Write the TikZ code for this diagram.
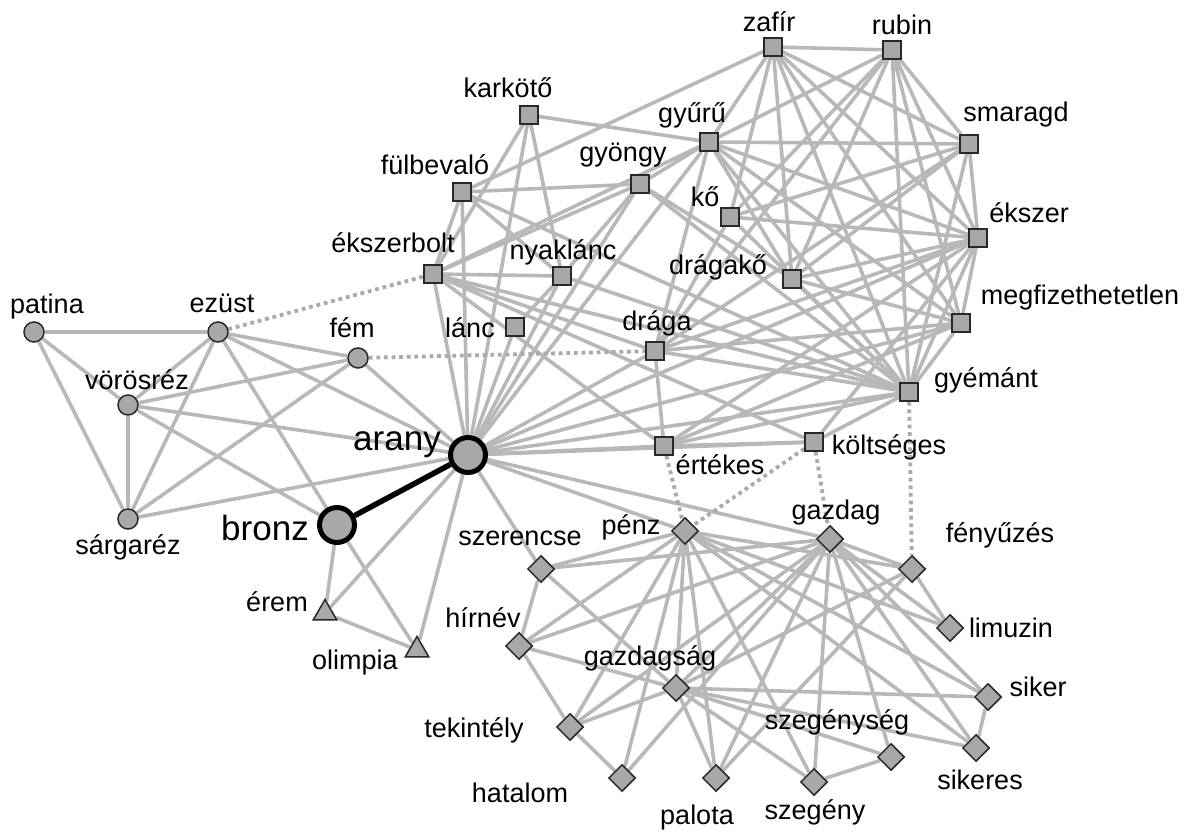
\documentclass[tikz,border=0pt]{standalone}
\usepackage{fontspec}
\setmainfont{Liberation Sans}
\usetikzlibrary{shapes.geometric,backgrounds}
\definecolor{edgegray}{RGB}{184,184,184}
\definecolor{dotgray}{RGB}{170,170,170}
\definecolor{nodefill}{RGB}{168,168,168}
\definecolor{nodeborder}{RGB}{40,40,40}
\begin{document}
\begin{tikzpicture}[x=1pt,y=-1pt,
  circ/.style={circle,draw=nodeborder,fill=nodefill,line width=1.5pt,minimum size=20pt,inner sep=0pt},
  bigc/.style={circle,draw=black,fill=nodefill,line width=5pt,minimum size=35pt,inner sep=0pt},
  sqr/.style={rectangle,draw=nodeborder,fill=nodefill,line width=1.5pt,minimum size=18pt,inner sep=0pt},
  dia/.style={diamond,draw=nodeborder,fill=nodefill,line width=1.5pt,minimum size=27pt,inner sep=0pt},
  tri/.style={regular polygon,regular polygon sides=3,draw=nodeborder,fill=nodefill,line width=1.5pt,minimum size=27pt,inner sep=0pt},
  lbl/.style={font=\fontsize{27}{29}\selectfont,inner sep=0pt},
  biglbl/.style={font=\fontsize{35}{38}\selectfont,inner sep=0pt},
  edge/.style={draw=edgegray,line width=3.6pt},
  dots/.style={draw=dotgray,line width=3.8pt,dash pattern=on 3.8pt off 3.8pt},
  heavy/.style={draw=black,line width=5.5pt}]
\useasboundingbox (0,0) rectangle (1188,834);

% circles
\node[circ] (patina) at (34,332) {};
\node[circ] (ezust) at (218,332) {};
\node[circ] (fem) at (358,358) {};
\node[circ] (voros) at (128,405) {};
\node[circ] (sarga) at (128,519) {};
\node[bigc] (arany) at (468,455) {};
\node[bigc] (bronz) at (337,525) {};
% triangles
\node[tri] (erem) at (325,613) {};
\node[tri] (olimpia) at (417,650) {};
% squares
\node[sqr] (karkoto) at (529,115) {};
\node[sqr] (fulbe) at (462,192) {};
\node[sqr] (gyongy) at (640,184) {};
\node[sqr] (gyuru) at (709,142) {};
\node[sqr] (zafir) at (773,47) {};
\node[sqr] (rubin) at (892,50) {};
\node[sqr] (smaragd) at (969,144) {};
\node[sqr] (ko) at (730,217) {};
\node[sqr] (ekszer) at (978,238) {};
\node[sqr] (eksbolt) at (433,274) {};
\node[sqr] (nyaklanc) at (562,276) {};
\node[sqr] (dragako) at (792,279) {};
\node[sqr] (megfiz) at (961,323) {};
\node[sqr] (lanc) at (515,327) {};
\node[sqr] (draga) at (655,351) {};
\node[sqr] (gyemant) at (909,392) {};
\node[sqr] (ertekes) at (664,446) {};
\node[sqr] (koltseges) at (814,442) {};
% diamonds
\node[dia] (penz) at (685,531) {};
\node[dia] (gazdag) at (830,539) {};
\node[dia] (szerencse) at (541,569) {};
\node[dia] (fenyuzes) at (912,569) {};
\node[dia] (limuzin) at (950,628) {};
\node[dia] (hirnev) at (519,646) {};
\node[dia] (gazdagsag) at (676,688) {};
\node[dia] (siker) at (988,697) {};
\node[dia] (tekintely) at (570,727) {};
\node[dia] (szegenyseg) at (891,757) {};
\node[dia] (sikeres) at (976,748) {};
\node[dia] (hatalom) at (622,778) {};
\node[dia] (palota) at (716,778) {};
\node[dia] (szegeny) at (814,782) {};

% labels
\node[lbl] (l-patina) at (47,307) {patina};
\node[lbl] (l-ezust) at (222,303) {ezüst};
\node[lbl] (l-fem) at (352,328) {fém};
\node[lbl] (l-voros) at (137,380) {vörösréz};
\node[lbl] (l-sarga) at (128,547) {sárgaréz};
\node[biglbl] (l-arany) at (397,445) {arany};
\node[biglbl] (l-bronz) at (265,528) {bronz};
\node[lbl] (l-erem) at (277,602) {érem};
\node[lbl] (l-olimpia) at (355,663) {olimpia};
\node[lbl] (l-karkoto) at (508,88) {karkötő};
\node[lbl] (l-gyuru) at (692,115) {gyűrű};
\node[lbl] (l-fulbe) at (435,165) {fülbevaló};
\node[lbl] (l-gyongy) at (623,155) {gyöngy};
\node[lbl] (l-ko) at (705,197) {kő};
\node[lbl] (l-eksbolt) at (393,243) {ékszerbolt};
\node[lbl] (l-nyaklanc) at (563,252) {nyaklánc};
\node[lbl] (l-dragako) at (718,267) {drágakő};
\node[lbl] (l-lanc) at (470,328) {lánc};
\node[lbl] (l-draga) at (657,323) {drága};
\node[lbl] (l-ertekes) at (720,465) {értékes};
\node[lbl] (l-zafir) at (769,22) {zafír};
\node[lbl] (l-rubin) at (902,25) {rubin};
\node[lbl] (l-smaragd) at (1016,115) {smaragd};
\node[lbl] (l-ekszer) at (1029,213) {ékszer};
\node[lbl] (l-megfiz) at (1080,298) {megfizethetetlen};
\node[lbl] (l-gyemant) at (986,380) {gyémánt};
\node[lbl] (l-koltseges) at (889,447) {költséges};
\node[lbl] (l-penz) at (631,527) {pénz};
\node[lbl] (l-gazdag) at (836,513) {gazdag};
\node[lbl] (l-szerencse) at (520,538) {szerencse};
\node[lbl] (l-fenyuzes) at (1000,535) {fényűzés};
\node[lbl] (l-limuzin) at (1011,628) {limuzin};
\node[lbl] (l-hirnev) at (483,618) {hírnév};
\node[lbl] (l-gazdagsag) at (650,658) {gazdagság};
\node[lbl] (l-siker) at (1038,687) {siker};
\node[lbl] (l-tekintely) at (474,730) {tekintély};
\node[lbl] (l-szegenyseg) at (837,722) {szegénység};
\node[lbl] (l-sikeres) at (980,780) {sikeres};
\node[lbl] (l-hatalom) at (520,793) {hatalom};
\node[lbl] (l-palota) at (697,818) {palota};
\node[lbl] (l-szegeny) at (815,812) {szegény};

\begin{scope}[on background layer]
\foreach \a/\b in {
  patina/ezust, patina/voros, patina/sarga, ezust/voros, ezust/sarga, ezust/fem,
  ezust/arany, ezust/bronz, fem/voros, fem/sarga, fem/arany, voros/sarga,
  voros/arany, voros/bronz, sarga/arany, bronz/erem, bronz/olimpia,
  arany/erem, arany/olimpia, erem/olimpia,
  arany/eksbolt, arany/fulbe, arany/karkoto, arany/lanc, arany/nyaklanc,
  arany/gyongy, arany/gyuru, arany/draga, arany/ekszer, arany/megfiz,
  arany/gyemant, arany/koltseges, arany/ertekes, arany/gazdag, arany/penz,
  arany/szerencse,
  karkoto/gyuru, karkoto/eksbolt, karkoto/nyaklanc,
  fulbe/eksbolt, fulbe/gyongy, fulbe/nyaklanc, fulbe/gyemant, fulbe/zafir,
  gyongy/eksbolt, gyongy/gyuru, gyongy/nyaklanc, gyongy/gyemant, gyongy/dragako,
  gyuru/eksbolt, gyuru/zafir, gyuru/rubin, gyuru/smaragd, gyuru/ekszer,
  gyuru/gyemant, gyuru/dragako, gyuru/draga, gyuru/megfiz,
  zafir/rubin, zafir/smaragd, zafir/ekszer, zafir/ko, zafir/dragako,
  zafir/gyemant, zafir/megfiz,
  rubin/ko, rubin/smaragd, rubin/ekszer, rubin/dragako, rubin/gyemant,
  rubin/megfiz, rubin/draga,
  smaragd/ekszer, smaragd/gyemant, smaragd/ko, smaragd/dragako, smaragd/draga,
  ko/ekszer, ko/gyemant, ko/draga,
  dragako/ekszer, dragako/gyemant, dragako/megfiz,
  ekszer/megfiz, ekszer/gyemant, ekszer/draga, ekszer/ertekes, ekszer/koltseges,
  megfiz/gyemant, megfiz/draga, megfiz/ertekes,
  gyemant/draga, gyemant/ertekes, gyemant/koltseges, gyemant/eksbolt,
  gyemant/nyaklanc,
  draga/ertekes, draga/eksbolt, ertekes/koltseges, ertekes/eksbolt,
  koltseges/eksbolt, lanc/nyaklanc, nyaklanc/eksbolt,
  penz/szerencse, penz/hirnev, penz/tekintely, penz/hatalom, penz/palota,
  penz/gazdagsag, penz/szegeny, penz/fenyuzes, penz/limuzin, penz/siker,
  penz/sikeres,
  gazdag/szerencse, gazdag/hirnev, gazdag/tekintely, gazdag/hatalom,
  gazdag/gazdagsag, gazdag/palota, gazdag/szegeny, gazdag/szegenyseg,
  gazdag/sikeres, gazdag/siker, gazdag/limuzin, gazdag/fenyuzes,
  fenyuzes/limuzin, fenyuzes/gazdagsag, fenyuzes/palota,
  gazdagsag/szerencse, gazdagsag/hirnev, gazdagsag/tekintely, gazdagsag/palota,
  gazdagsag/szegeny, gazdagsag/szegenyseg, gazdagsag/siker, gazdagsag/sikeres,
  szerencse/hirnev, hirnev/tekintely, tekintely/hatalom, szegeny/szegenyseg,
  siker/sikeres}
  \draw[edge] (\a) -- (\b);
\foreach \a/\b in {ezust/eksbolt, fem/draga, ertekes/penz, koltseges/penz,
  koltseges/gazdag, gyemant/fenyuzes}
  \draw[dots] (\a) -- (\b);
\draw[heavy] (arany) -- (bronz);
\end{scope}
\end{tikzpicture}
\end{document}
